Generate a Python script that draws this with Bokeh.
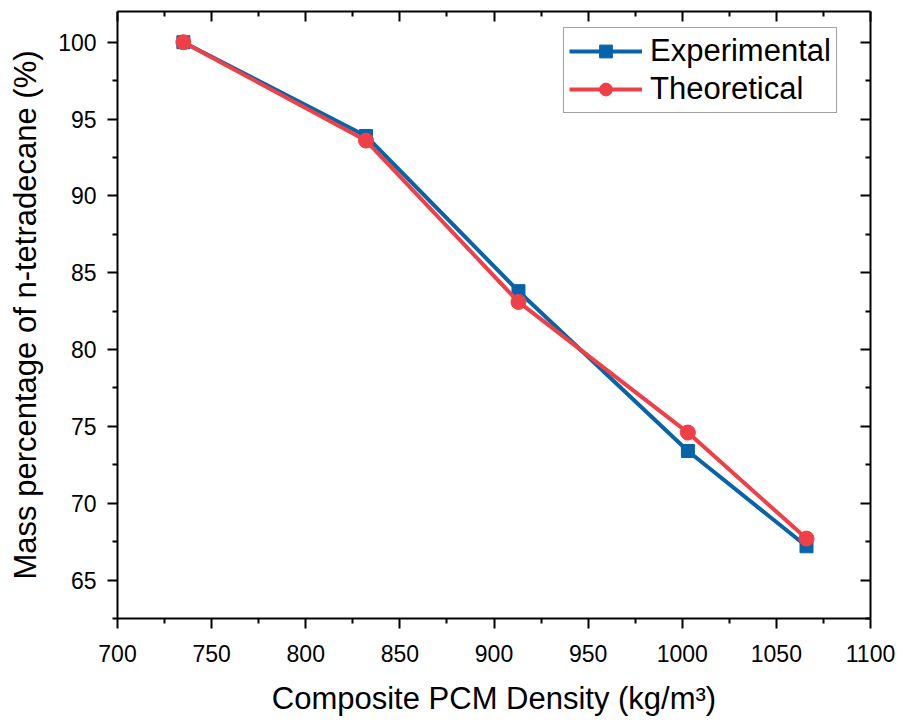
from bokeh.plotting import figure
from bokeh.models import (LinearAxis, Range1d, Legend, LegendItem, FixedTicker,
                          ColumnDataSource, CustomJSTickFormatter)
from bokeh.embed import file_html
from bokeh.resources import INLINE

# ---- data ----
density = [735, 832, 913, 1003, 1066]
experimental = [100.0, 93.9, 83.8, 73.4, 67.2]
theoretical = [100.0, 93.6, 83.1, 74.6, 67.7]
x_ticks = [700, 750, 800, 850, 900, 950, 1000, 1050, 1100]
y_ticks = [65, 70, 75, 80, 85, 90, 95, 100]

x_minor = [t + 25 for t in x_ticks[:-1]]
y_minor = [t + 2.5 for t in y_ticks] + [62.5]

BLUE = "#0864A8"
RED = "#EF4047"
FONT = "Liberation Sans"

src = ColumnDataSource(dict(x=density, exp=experimental, theo=theoretical))

p = figure(width=896, height=718, x_range=Range1d(700, 1100), y_range=Range1d(62.5, 102),
           output_backend="svg", toolbar_location=None,
           min_border_left=117, min_border_right=26, min_border_top=11, min_border_bottom=96,
           x_axis_label="Composite PCM Density (kg/m³)",
           y_axis_label="Mass percentage of n-tetradecane (%)")
p.outline_line_color = None
p.xgrid.visible = False
p.ygrid.visible = False

xt = FixedTicker(ticks=x_ticks, minor_ticks=x_minor)
yt = FixedTicker(ticks=y_ticks, minor_ticks=y_minor)

def style(ax, ticker, inside, show_labels):
    ax.ticker = ticker
    ax.axis_line_width = 2
    ax.axis_line_color = "black"
    ax.major_tick_line_width = 2
    ax.minor_tick_line_width = 2
    ax.major_tick_line_color = "black"
    ax.minor_tick_line_color = "black"
    if inside:
        ax.major_tick_in, ax.major_tick_out = 10, 0
        ax.minor_tick_in, ax.minor_tick_out = 5, 0
    else:
        ax.major_tick_in, ax.major_tick_out = 0, 10
        ax.minor_tick_in, ax.minor_tick_out = 0, 5
    if show_labels:
        ax.major_label_text_font = FONT
        ax.major_label_text_font_size = "23px"
        ax.major_label_text_color = "black"
        ax.major_label_standoff = 11
        ax.axis_label_text_font = FONT
        ax.axis_label_text_font_size = "31px"
        ax.axis_label_text_font_style = "normal"
        ax.axis_label_text_color = "black"
    else:
        ax.formatter = CustomJSTickFormatter(code="return ''")
        ax.major_label_text_font_size = "1px"
        ax.major_label_standoff = 0

style(p.xaxis[0], xt, False, True)
style(p.yaxis[0], yt, False, True)
p.xaxis[0].major_label_standoff = 16
p.xaxis[0].axis_label_standoff = 16
p.yaxis[0].axis_label_standoff = 12

top = LinearAxis()
style(top, xt, True, False)
p.add_layout(top, "above")
right = LinearAxis()
style(right, yt, True, False)
p.add_layout(right, "right")

l1 = p.line("x", "exp", source=src, line_color=BLUE, line_width=4)
m1 = p.scatter("x", "exp", source=src, marker="square", size=13, fill_color=BLUE, line_color=BLUE)
l2 = p.line("x", "theo", source=src, line_color=RED, line_width=4)
m2 = p.scatter("x", "theo", source=src, marker="circle", size=15, fill_color=RED, line_color=RED)

legend = Legend(items=[LegendItem(label="Experimental", renderers=[l1, m1]),
                       LegendItem(label="Theoretical", renderers=[l2, m2])],
                location=(446, 505))
legend.label_text_font = FONT
legend.label_text_font_size = "31px"
legend.label_text_color = "black"
legend.glyph_width = 73
legend.glyph_height = 32
legend.label_height = 32
legend.label_standoff = 8
legend.padding = 5
legend.spacing = 2
legend.margin = 0
legend.border_line_color = "#444444"
legend.border_line_width = 1
legend.background_fill_color = "white"
legend.background_fill_alpha = 1
p.add_layout(legend, "center")

open("out.html", "w").write(file_html(p, INLINE))
